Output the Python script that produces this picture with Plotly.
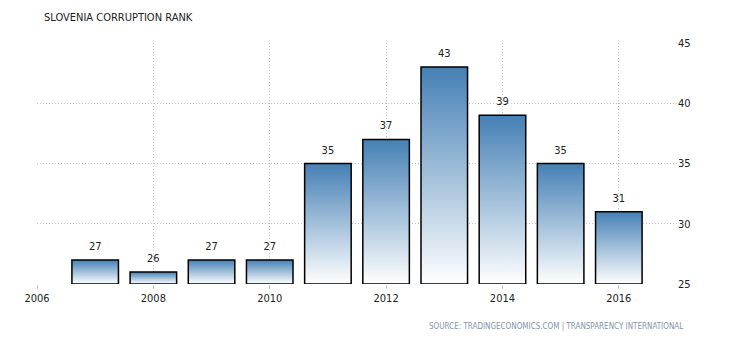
import plotly.graph_objects as go

years = [2007, 2008, 2009, 2010, 2011, 2012, 2013, 2014, 2015, 2016]
rank = [27, 26, 27, 27, 35, 37, 43, 39, 35, 31]
x_ticks = [2006, 2008, 2010, 2012, 2014, 2016]
y_ticks = [25, 30, 35, 40, 45]
title_text = "SLOVENIA CORRUPTION RANK"
source_text = "SOURCE: TRADINGECONOMICS.COM | TRANSPARENCY INTERNATIONAL"

BASE = 25
HALF = 0.4
FONT = "DejaVu Sans Condensed, DejaVu Sans, sans-serif"
GRID = "#c8c8c8"

fig = go.Figure()
for yr, v in zip(years, rank):
    fig.add_trace(go.Scatter(
        x=[yr - HALF, yr - HALF, yr + HALF, yr + HALF, yr - HALF],
        y=[BASE, v, v, BASE, BASE],
        mode="lines",
        fill="toself",
        fillgradient=dict(type="vertical",
                          colorscale=[[0, "#ffffff"], [1, "#4580b5"]]),
        line=dict(color="#000000", width=1.5),
        hoverinfo="skip",
        showlegend=False,
    ))

fig.add_trace(go.Scatter(
    x=years, y=rank, mode="markers+text", text=[str(v) for v in rank],
    textposition="top center",
    marker=dict(size=10, color="rgba(0,0,0,0)"),
    textfont=dict(family=FONT, size=11, color="#222222"),
    showlegend=False, hoverinfo="skip",
))

fig.update_layout(
    width=730, height=340,
    margin=dict(l=37, r=53, t=43, b=56),
    paper_bgcolor="white", plot_bgcolor="white",
    font=dict(family=FONT, size=11, color="#222222"),
    title=dict(text=title_text, xref="container", yref="container",
               x=44 / 730, y=1 - 17 / 340, xanchor="left", yanchor="middle",
               font=dict(family=FONT, size=11, color="#222222")),
    xaxis=dict(range=[2006, 2017], tickvals=x_ticks, showgrid=True,
               gridcolor=GRID, griddash="1px,2px", gridwidth=1,
               zeroline=False, showline=False,
               ticks="outside", ticklen=4, tickcolor=GRID,
               tickfont=dict(family=FONT, size=11, color="#222222")),
    yaxis=dict(range=[25, 45], tickvals=y_ticks, side="right",
               showgrid=True, gridcolor=GRID, griddash="1px,2px", gridwidth=1,
               zeroline=False, showline=False, ticks="",
               ticklabelstandoff=0,
               tickfont=dict(family=FONT, size=11, color="#222222")),
    annotations=[dict(text=source_text, xref="paper", yref="paper",
                      x=(685 - 37) / 640, y=(284 - 326) / 241,
                      xanchor="right", yanchor="middle", showarrow=False,
                      font=dict(family=FONT, size=8, color="#8593a8"))],
)

fig.write_html("out.html")
